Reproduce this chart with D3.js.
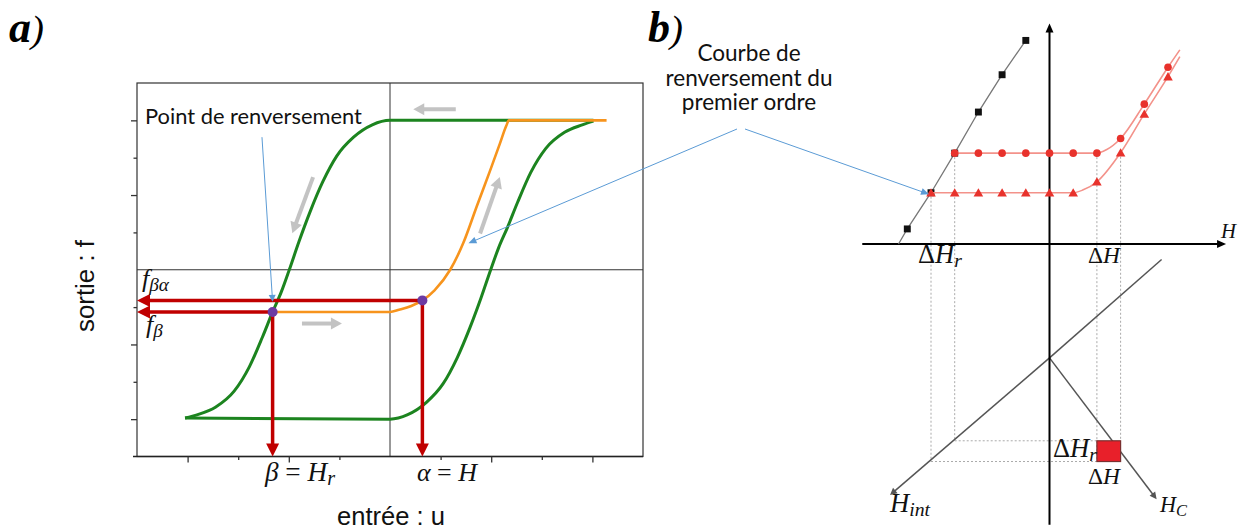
<!DOCTYPE html>
<html><head><meta charset="utf-8">
<script src="https://cdn.jsdelivr.net/npm/d3@7"></script>
<style>body{margin:0;background:#fff}svg{display:block}</style>
</head><body>
<svg id="c" width="1242" height="530"></svg>
<script>
// ---------- DATA : panel a (hysteresis, units of the plot) ----------
const aTicks = [-4, -3, -2, -1, 1, 2, 3, 4];
const greenDescending = [[-4.05,-3.97],[-3.80,-3.88],[-3.45,-3.68],[-3.08,-3.25],[-2.78,-2.60],[-2.52,-1.80],[-2.32,-1.13],[-2.15,-0.60],[-1.99,0],[-1.80,0.75],[-1.58,1.55],[-1.33,2.35],[-1.05,3.05],[-0.72,3.55],[-0.35,3.88],[0,4],[4.02,4]];
const greenAscending = [[-4.05,-3.97],[0,-4],[0.35,-3.88],[0.72,-3.55],[1.05,-3.05],[1.33,-2.35],[1.58,-1.55],[1.80,-0.75],[1.99,0],[2.15,0.60],[2.32,1.13],[2.52,1.80],[2.78,2.60],[3.08,3.25],[3.45,3.68],[3.80,3.88],[4.02,3.98]];
const orangeFORC = [[-2.32,-1.13],[0,-1.13],[0.18,-1.07],[0.42,-0.97],[0.64,-0.82],[0.88,-0.55],[1.19,0],[1.45,0.72],[1.71,1.68],[1.98,2.66],[2.17,3.37],[2.30,3.86],[2.35,4.0],[4.28,4.0]];
const reversalPoints = [[-2.32,-1.13],[0.64,-0.82]];   // beta, alpha
const grayArrows = [[[1.30,4.3],[0.46,4.3]],[[-1.52,2.48],[-1.93,0.98]],[[1.78,0.97],[2.17,2.48]],[[-1.74,-1.44],[-0.95,-1.44]]];

// ---------- DATA : panel b (FORC construction) ----------
const bSquares = [[-6,0.4],[-5,1.36],[-4,2.41],[-3,3.5],[-2,4.49],[-1,5.4]];
const bMajorLine = [[-6.37,0],[-6,0.4],[-5,1.36],[-4,2.41],[-3,3.5],[-2,4.49],[-1,5.4],[-0.97,5.42]];
const bCircleCurve = [[-4,2.41],[-3,2.41],[-2,2.41],[-1,2.41],[0,2.41],[1,2.41],[2,2.41],[2.4,2.5],[3,2.8],[4,3.71],[5,4.69],[5.5,5.15]];
const bCircles = [[-4,2.41],[-3,2.41],[-2,2.41],[-1,2.41],[0,2.41],[1,2.41],[2,2.41],[3,2.8],[4,3.71],[5,4.69]];
const bTriangleCurve = [[-5,1.36],[-4,1.36],[-3,1.36],[-2,1.36],[-1,1.36],[0,1.36],[1,1.36],[1.4,1.43],[2,1.65],[3,2.42],[4,3.45],[5,4.44],[5.5,4.97]];
const bTriangles = [[-5,1.36],[-4,1.36],[-3,1.36],[-2,1.36],[-1,1.36],[0,1.36],[1,1.36],[2,1.65],[3,2.42],[4,3.45],[5,4.44]];
const bHint = [[-6.73,-6.66],[0,-3.02],[4.73,-0.41]];
const bHc = [[0,-3.02],[4.52,-6.77]];
const bCell = {x0:2, x1:3, y0:-5.77, y1:-5.22};
const bGuidesV = [[[-5,1.36],[-5,-5.77]],[[-4,2.41],[-4,-5.22]],[[2,2.41],[2,-5.77]],[[3,2.42],[3,-5.22]]];
const bGuidesH = [[[-4,-5.22],[2,-5.22]],[[-5,-5.77],[2,-5.77]]];
const forcCaption = ["Courbe de","renversement du","premier ordre"];

// ---------- SCALES ----------
const svg = d3.select("#c");
const xA = d3.scaleLinear().domain([-5,5]).range([137,643]);
const yA = d3.scaleLinear().domain([-5,5]).range([456.5,83]);
const xB = d3.scaleLinear().domain([0,1]).range([1049.5,1073.2]);
const yB = d3.scaleLinear().domain([0,1]).range([244,206.3]);

const SANS = "Lato,'Noto Sans',sans-serif";
const SERIF = "'Liberation Serif','DejaVu Serif',serif";

function head(g, tip, from, len, hw, color){
  const dx = tip[0]-from[0], dy = tip[1]-from[1], L = Math.hypot(dx,dy);
  const ux = dx/L, uy = dy/L, bx = tip[0]-ux*len, by = tip[1]-uy*len;
  g.append("path").attr("d", `M${tip[0]},${tip[1]}L${bx-uy*hw},${by+ux*hw}L${bx+uy*hw},${by-ux*hw}Z`).attr("fill", color);
  return [bx+ux*1, by+uy*1];
}
function arrow(g, from, to, color, w, len, hw){
  const b = head(g, to, from, len, hw, color);
  g.append("line").attr("x1",from[0]).attr("y1",from[1]).attr("x2",b[0]).attr("y2",b[1]).attr("stroke",color).attr("stroke-width",w);
}
function fit(sel, w){
  const cur = sel.node().getComputedTextLength();
  sel.attr("font-size", parseFloat(sel.attr("font-size"))*w/cur);
  return sel;
}
function math(g, x, y, parts, fs, w){
  const t = g.append("text").attr("x",x).attr("y",y).attr("font-family",SERIF).attr("font-size",fs).attr("fill","#111");
  parts.forEach(p=>{
    const s = t.append("tspan").text(p.t);
    if(p.i) s.attr("font-style","italic");
    if(p.sub) s.attr("font-size","74%").attr("dy","0.22em");
  });
  if(w) fit(t, w);
  return t;
}

// ---------- PANEL a ----------
const A = svg.append("g");
A.append("rect").attr("x",xA(-5)).attr("y",yA(5)).attr("width",xA(5)-xA(-5)).attr("height",yA(-5)-yA(5))
  .attr("fill","none").attr("stroke","#333").attr("stroke-width",1.2);
A.append("line").attr("x1",xA(0)).attr("x2",xA(0)).attr("y1",yA(5)).attr("y2",yA(-5)).attr("stroke","#333").attr("stroke-width",1);
A.append("line").attr("x1",xA(-5)).attr("x2",xA(5)).attr("y1",yA(0)).attr("y2",yA(0)).attr("stroke","#333").attr("stroke-width",1);
A.append("line").attr("x1",xA(-5)-4).attr("x2",xA(5)).attr("y1",yA(-5)).attr("y2",yA(-5)).attr("stroke","#222").attr("stroke-width",1.6);

const major = aTicks.filter(d=>d%2===0), minor = aTicks.filter(d=>d%2!==0);
[[major,6],[minor,3.5]].forEach(([vals,len])=>{
  const gx = A.append("g").attr("transform",`translate(0,${yA(-5)})`).call(d3.axisBottom(xA).tickValues(vals).tickSize(len).tickFormat(""));
  gx.select(".domain").remove(); gx.selectAll("line").attr("stroke","#333").attr("stroke-width",1.3);
  const gy = A.append("g").attr("transform",`translate(${xA(-5)},0)`).call(d3.axisLeft(yA).tickValues(vals).tickSize(len).tickFormat(""));
  gy.select(".domain").remove(); gy.selectAll("line").attr("stroke","#333").attr("stroke-width",1.3);
});

// gray direction arrows
grayArrows.forEach(([f,t])=>arrow(A,[xA(f[0]),yA(f[1])],[xA(t[0]),yA(t[1])],"#c3c3c3",4,11,6));

const lineA = d3.line().x(d=>xA(d[0])).y(d=>yA(d[1])).curve(d3.curveMonotoneX);
A.append("path").attr("d",lineA(greenDescending)).attr("fill","none").attr("stroke","#1c841f").attr("stroke-width",3);
A.append("path").attr("d",lineA(greenAscending)).attr("fill","none").attr("stroke","#1c841f").attr("stroke-width",3);
A.append("path").attr("d",lineA(orangeFORC)).attr("fill","none").attr("stroke","#f7941d").attr("stroke-width",2.6);

// red projections
reversalPoints.forEach(p=>{
  arrow(A,[xA(p[0]),yA(p[1])],[xA(-5),yA(p[1])],"#c00000",3.5,13,6.5);
  arrow(A,[xA(p[0]),yA(p[1])],[xA(p[0]),yA(-5)],"#c00000",3.5,13,6.5);
});
A.selectAll("circle.rp").data(reversalPoints).join("circle").attr("cx",d=>xA(d[0])).attr("cy",d=>yA(d[1])).attr("r",5).attr("fill","#6c3aa3");

// leader "Point de renversement"
arrow(A,[xA(-2.53),yA(3.55)],[xA(-2.32),yA(-0.86)],"#5b9bd5",1,7,3.5);
fit(A.append("text").attr("x",145).attr("y",124).attr("font-family",SANS).attr("font-size",17).attr("fill","#111").text("Point de renversement"),217);

math(A,142,287,[{t:"f",i:1},{t:"βα",i:1,sub:1}],26);
math(A,146,333,[{t:"f",i:1},{t:"β",i:1,sub:1}],26);
math(A,265,481,[{t:"β",i:1},{t:" = "},{t:"H",i:1},{t:"r",i:1,sub:1}],23,70);
math(A,417,481,[{t:"α",i:1},{t:" = "},{t:"H",i:1}],23,60);

fit(svg.append("text").attr("x",337).attr("y",525).attr("font-family","'Liberation Sans',Arial,sans-serif").attr("font-size",24).attr("fill","#111").text("entrée : u"),108);
fit(svg.append("text").attr("transform","translate(93.5,332) rotate(-90)").attr("font-family","'Liberation Sans',Arial,sans-serif").attr("font-size",24).attr("fill","#111").text("sortie : f"),92);

// panel tags
[["a",9],["b",648]].forEach(([l,x])=>{
  const t = svg.append("text").attr("x",x).attr("y",42).attr("font-family",SERIF).attr("font-size",44).attr("fill","#000");
  t.append("tspan").attr("font-weight","bold").attr("font-style","italic").text(l);
  t.append("tspan").attr("font-style","italic").attr("font-size","88%").text(")");
});

// ---------- PANEL b ----------
const B = svg.append("g");
const P = d=>[xB(d[0]),yB(d[1])];
[...bGuidesV,...bGuidesH].forEach(([f,t])=>B.append("line").attr("x1",xB(f[0])).attr("y1",yB(f[1])).attr("x2",xB(t[0])).attr("y2",yB(t[1]))
  .attr("stroke","#aaa").attr("stroke-width",1).attr("stroke-dasharray","2,2"));

// H_int and H_C lines
B.append("line").attr("x1",xB(bHint[1][0])).attr("y1",yB(bHint[1][1])).attr("x2",xB(bHint[2][0])).attr("y2",yB(bHint[2][1])).attr("stroke","#555").attr("stroke-width",1.5);
arrow(B,P(bHint[1]),P(bHint[0]),"#555",1.5,7,3.5);
arrow(B,P(bHc[0]),P(bHc[1]),"#555",1.5,7,3.5);

// axes
arrow(B,[xB(-7.9),yB(0)],[xB(7.45),yB(0)],"#000",2,9,4);
arrow(B,[xB(0),yB(-7.45)],[xB(0),yB(5.85)],"#000",2,9,4);

// major curve (black)
const lineB = d3.line().x(d=>xB(d[0])).y(d=>yB(d[1]));
B.append("path").attr("d",lineB(bMajorLine)).attr("fill","none").attr("stroke","#777").attr("stroke-width",1.3);
B.selectAll("path.sq").data(bSquares).join("path").attr("transform",d=>`translate(${xB(d[0])},${yB(d[1])})`)
  .attr("d",d3.symbol(d3.symbolSquare,48)).attr("fill","#111");

// red FORCs
const lineBs = d3.line().x(d=>xB(d[0])).y(d=>yB(d[1])).curve(d3.curveMonotoneX);
[bCircleCurve,bTriangleCurve].forEach(c=>B.append("path").attr("d",lineBs(c)).attr("fill","none").attr("stroke","#f3928a").attr("stroke-width",1.6));
B.selectAll("circle.rc").data(bCircles).join("circle").attr("cx",d=>xB(d[0])).attr("cy",d=>yB(d[1])).attr("r",3.8).attr("fill","#e8322c");
B.selectAll("path.tr").data(bTriangles).join("path").attr("transform",d=>`translate(${xB(d[0])},${yB(d[1])+1})`)
  .attr("d",d3.symbol(d3.symbolTriangle,40)).attr("fill","#e8322c");

// FORC cell
B.append("rect").attr("x",xB(bCell.x0)).attr("y",yB(bCell.y1)).attr("width",xB(bCell.x1)-xB(bCell.x0)).attr("height",yB(bCell.y0)-yB(bCell.y1))
  .attr("fill","#e8202a").attr("stroke","#7a3030").attr("stroke-width",1.2);

// labels panel b
math(B,1221,238,[{t:"H",i:1}],24,15);
math(B,918,263,[{t:"Δ"},{t:"H",i:1},{t:"r",i:1,sub:1}],24,44);
math(B,1088,263,[{t:"Δ"},{t:"H",i:1}],24,32);
math(B,1053,457,[{t:"Δ"},{t:"H",i:1},{t:"r",i:1,sub:1}],24,44);
math(B,1088,484,[{t:"Δ"},{t:"H",i:1}],24,32);
math(B,890,512,[{t:"H",i:1},{t:"int",i:1,sub:1}],22,40);
math(B,1160,512,[{t:"H",i:1},{t:"C",i:1,sub:1}],22,27);

// "Courbe de renversement du premier ordre" (one text block, three lines)
const cx = 749;
const probe = fit(svg.append("text").attr("font-family",SANS).attr("font-size",17).text(forcCaption[1]),167);
const fsC = +probe.attr("font-size"); probe.remove();
const cap = svg.append("text").attr("text-anchor","middle").attr("font-family",SANS).attr("font-size",fsC).attr("fill","#111");
forcCaption.forEach((s,i)=>cap.append("tspan").attr("x",cx).attr("y",61+i*24.5).text(s));
arrow(svg,[cx-12,129],[xA(1.55),yA(0.71)],"#5b9bd5",1,8,3.5);
arrow(svg,[cx-4,129],[xB(-5)-2,yB(1.36)+1.5],"#5b9bd5",1,8,3.5);
</script>
</body></html>
